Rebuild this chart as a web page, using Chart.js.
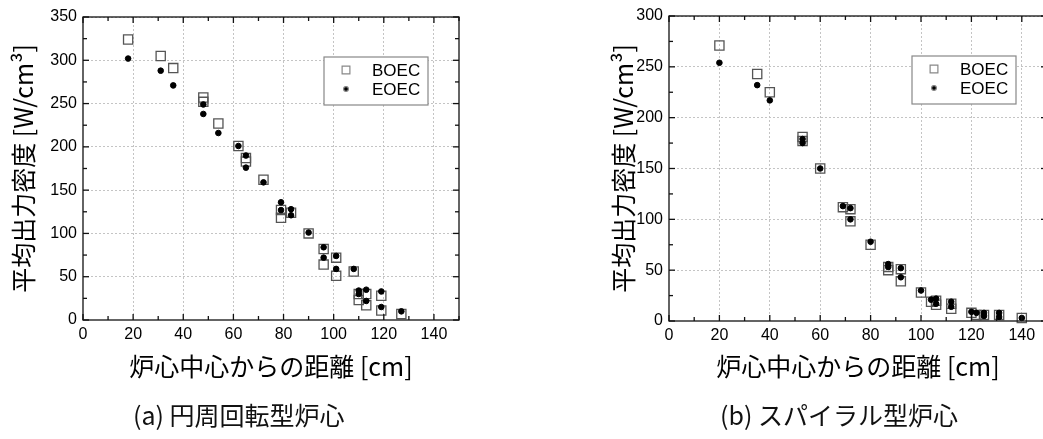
<!DOCTYPE html>
<html>
<head>
<meta charset="utf-8">
<script src="https://cdn.jsdelivr.net/npm/chart.js@4.4.1/dist/chart.umd.min.js"></script>
<style>
  html, body { margin: 0; padding: 0; background: #fff; overflow: hidden; width: 1043px; height: 439px; }
  .box { position: absolute; top: 0; height: 400px; }
  #boxA { left: 0; width: 520px; }
  #boxB { left: 600px; width: 480px; }
  .cap { position: absolute; top: 396px; font-family: "Noto Sans CJK JP", sans-serif; font-size: 25px; color: #111; white-space: nowrap; }
</style>
</head>
<body>
<div class="box" id="boxA"><canvas id="chartA" width="520" height="400"></canvas></div>
<div class="box" id="boxB"><canvas id="chartB" width="480" height="400"></canvas></div>
<div class="cap" style="left:133px">(a) 円周回転型炉心</div>
<div class="cap" style="left:720px">(b) スパイラル型炉心</div>
<script>
// (a) circumferential rotation core
const boecAx = [18, 31, 36, 48, 48, 54, 62, 65, 65, 72, 79, 79, 83, 90, 96, 96, 101, 101, 108, 110, 110, 113, 113, 119, 119, 127];
const boecAy = [324, 305, 291, 257, 252, 227, 201, 187, 183, 162, 127, 118, 124, 100, 82, 64, 72, 51, 56, 30, 23, 30, 17, 28, 11, 7];
const eoecAx = [18, 31, 36, 48, 48, 54, 62, 65, 65, 72, 79, 79, 83, 83, 90, 96, 96, 101, 101, 108, 110, 110, 113, 113, 119, 119, 127];
const eoecAy = [302, 288, 271, 249, 238, 216, 201, 190, 176, 159, 136, 127, 128, 121, 101, 84, 72, 74, 59, 59, 34, 30, 35, 22, 33, 15, 10];

// (b) spiral core
const boecBx = [20, 35, 40, 53, 53, 60, 69, 72, 72, 80, 87, 87, 92, 92, 100, 104, 106, 106, 112, 112, 120, 122, 125, 131, 140];
const boecBy = [271, 243, 225, 181, 177, 150, 112, 110, 98, 75, 53, 50, 51, 39, 28, 19, 20, 16, 17, 12, 8, 6, 6, 6, 3];
const eoecBx = [20, 35, 40, 53, 53, 60, 69, 72, 72, 80, 87, 87, 92, 92, 100, 104, 106, 106, 112, 112, 120, 122, 125, 125, 131, 131, 140];
const eoecBy = [254, 232, 217, 179, 175, 150, 113, 111, 100, 78, 56, 53, 52, 43, 30, 21, 22, 17, 19, 14, 9, 8, 8, 5, 8, 4, 3];

// tick labels
const xTicks = [0, 20, 40, 60, 80, 100, 120, 140];
const yTicksA = [0, 50, 100, 150, 200, 250, 300, 350];
const yTicksB = [0, 50, 100, 150, 200, 250, 300];

const seriesNames = ['BOEC', 'EOEC'];
const xTitle = '炉心中心からの距離 [cm]';
const yTitle = '平均出力密度 [W/cm³]';

const toPoints = (xs, ys) => xs.map((x, i) => ({ x: x, y: ys[i] }));

const tickFont = { family: '"Liberation Sans", Arial, sans-serif', size: 16 };
const titleFont = { family: '"Noto Sans CJK JP", sans-serif', size: 25 };

// box around the plot with small inward ticks on all four sides
const framePlugin = {
  id: 'frame',
  afterDraw(chart) {
    const { ctx, chartArea: a, scales: { x, y } } = chart;
    const line = (x1, y1, x2, y2) => { ctx.beginPath(); ctx.moveTo(x1, y1); ctx.lineTo(x2, y2); ctx.stroke(); };
    ctx.save();
    ctx.strokeStyle = '#111';
    ctx.lineWidth = 1.3;
    ctx.strokeRect(a.left, a.top, a.right - a.left, a.bottom - a.top);
    for (let v = x.min; v <= x.max; v += 10) {
      const px = x.getPixelForValue(v);
      const len = v % 20 === 0 ? 6 : 4;
      line(px, a.bottom, px, a.bottom - len);
      line(px, a.top, px, a.top + len);
    }
    for (let v = y.min; v <= y.max; v += 25) {
      const py = y.getPixelForValue(v);
      const len = v % 50 === 0 ? 6 : 4;
      line(a.left, py, a.left + len, py);
      line(a.right, py, a.right - len, py);
    }
    ctx.restore();
  }
};

// boxed legend in the upper right of the plot
const boxLegend = {
  id: 'boxLegend',
  afterDraw(chart) {
    const { ctx, chartArea: a } = chart;
    const w = 104, h = 48;
    const left = a.right - 31 - w, top = a.top + 40;
    ctx.save();
    ctx.fillStyle = '#fff';
    ctx.fillRect(left, top, w, h);
    ctx.strokeStyle = '#888';
    ctx.lineWidth = 1.2;
    ctx.strokeRect(left, top, w, h);
    chart.data.datasets.forEach((ds, i) => {
      const cy = top + 13 + i * 19;
      Chart.helpers.drawPoint(ctx, {
        pointStyle: ds.pointStyle,
        radius: ds.pointStyle === 'rect' ? 5.5 : 2.4,
        borderWidth: ds.borderWidth
      }, left + 22, cy);
      ctx.fillStyle = '#000';
      ctx.font = '17px "Liberation Sans", Arial, sans-serif';
      ctx.textBaseline = 'middle';
      ctx.fillText(ds.label, left + 48, cy + 1);
    });
    ctx.restore();
  }
};

function makeChart(id, datasets, yMax, yTicks, plot) {
  datasets.forEach(ds => {
    const isRect = ds.pointStyle === 'rect';
    Object.assign(ds, {
      showLine: false,
      clip: false,
      pointRadius: isRect ? 6.5 : 2.8,
      pointHoverRadius: isRect ? 6.5 : 2.8,
      borderWidth: isRect ? 1.3 : 1,
      borderColor: isRect ? '#555' : '#000',
      backgroundColor: isRect ? 'rgba(0,0,0,0)' : '#000',
      order: isRect ? 2 : 1
    });
  });
  const gridColor = ctx => (ctx.tick && (ctx.tick.value === 0)) ? 'rgba(0,0,0,0)' : '#c4c4c4';
  return new Chart(document.getElementById(id).getContext('2d'), {
    type: 'scatter',
    data: { datasets: datasets },
    options: {
      responsive: false,
      animation: false,
      events: [],
      layout: { padding: { left: 0, top: plot.top, right: plot.right, bottom: 0 } },
      plugins: { legend: { display: false }, tooltip: { enabled: false } },
      scales: {
        x: {
          type: 'linear', min: 0, max: 150,
          afterBuildTicks: s => { s.ticks = xTicks.map(v => ({ value: v })); },
          afterFit: s => { s.height = plot.xHeight; },
          ticks: { color: '#000', font: tickFont, padding: 5, maxRotation: 0, autoSkip: false },
          grid: { drawTicks: false, color: gridColor, lineWidth: 1 },
          border: { display: false, dash: [2, 2] },
          title: { display: true, text: xTitle, color: '#000', font: titleFont, padding: { top: 0, bottom: 19 } }
        },
        y: {
          type: 'linear', min: 0, max: yMax,
          afterBuildTicks: s => { s.ticks = yTicks.map(v => ({ value: v })); },
          afterFit: s => { s.width = plot.yWidth; },
          ticks: { color: '#000', font: tickFont, padding: 6, autoSkip: false },
          grid: { drawTicks: false, color: gridColor, lineWidth: 1 },
          border: { display: false, dash: [2, 2] },
          title: { display: true, text: yTitle, color: '#000', font: titleFont, padding: { top: 8, bottom: 0 } }
        }
      }
    },
    plugins: [framePlugin, boxLegend]
  });
}

makeChart('chartA', [
  { label: seriesNames[0], data: toPoints(boecAx, boecAy), pointStyle: 'rect' },
  { label: seriesNames[1], data: toPoints(eoecAx, eoecAy), pointStyle: 'circle' }
], 350, yTicksA, { top: 17, right: 61, xHeight: 80, yWidth: 83 });

makeChart('chartB', [
  { label: seriesNames[0], data: toPoints(boecBx, boecBy), pointStyle: 'rect' },
  { label: seriesNames[1], data: toPoints(eoecBx, eoecBy), pointStyle: 'circle' }
], 300, yTicksB, { top: 16, right: 33, xHeight: 79, yWidth: 69 });
</script>
</body>
</html>
